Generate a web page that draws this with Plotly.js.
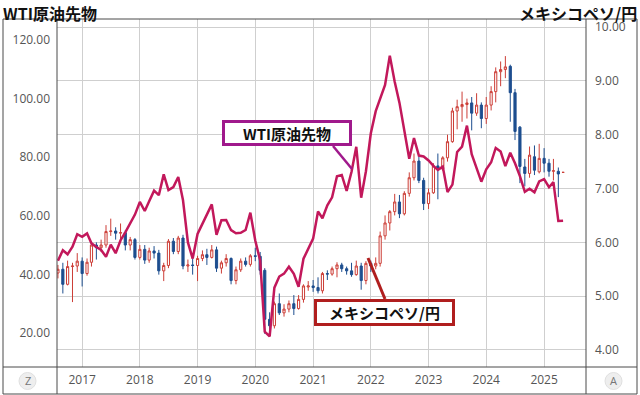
<!DOCTYPE html>
<html><head><meta charset="utf-8">
<script src="https://cdn.plot.ly/plotly-3.0.1.min.js"></script>
<style>html,body{margin:0;padding:0;background:#fff;}#chart{width:640px;height:395px;}</style>
</head><body><div id="chart"></div>
<script>
const months = [
'2016-08-01','2016-09-01','2016-10-01','2016-11-01','2016-12-01',
'2017-01-01','2017-02-01','2017-03-01','2017-04-01','2017-05-01','2017-06-01','2017-07-01','2017-08-01','2017-09-01','2017-10-01','2017-11-01','2017-12-01',
'2018-01-01','2018-02-01','2018-03-01','2018-04-01','2018-05-01','2018-06-01','2018-07-01','2018-08-01','2018-09-01','2018-10-01','2018-11-01','2018-12-01',
'2019-01-01','2019-02-01','2019-03-01','2019-04-01','2019-05-01','2019-06-01','2019-07-01','2019-08-01','2019-09-01','2019-10-01','2019-11-01','2019-12-01',
'2020-01-01','2020-02-01','2020-03-01','2020-04-01','2020-05-01','2020-06-01','2020-07-01','2020-08-01','2020-09-01','2020-10-01','2020-11-01','2020-12-01',
'2021-01-01','2021-02-01','2021-03-01','2021-04-01','2021-05-01','2021-06-01','2021-07-01','2021-08-01','2021-09-01','2021-10-01','2021-11-01','2021-12-01',
'2022-01-01','2022-02-01','2022-03-01','2022-04-01','2022-05-01','2022-06-01','2022-07-01','2022-08-01','2022-09-01','2022-10-01','2022-11-01','2022-12-01',
'2023-01-01','2023-02-01','2023-03-01','2023-04-01','2023-05-01','2023-06-01','2023-07-01','2023-08-01','2023-09-01','2023-10-01','2023-11-01','2023-12-01',
'2024-01-01','2024-02-01','2024-03-01','2024-04-01','2024-05-01','2024-06-01','2024-07-01','2024-08-01','2024-09-01','2024-10-01','2024-11-01','2024-12-01',
'2025-01-01','2025-02-01','2025-03-01','2025-04-01','2025-05-01'];

const wtiClose = [
44.70,48.24,46.86,49.44,53.72,
52.81,54.01,50.60,49.33,48.32,46.04,50.17,47.23,51.67,54.38,57.40,60.42,
64.73,61.64,64.94,68.57,67.04,74.15,68.76,69.80,73.25,65.31,50.93,45.41,
53.79,57.22,60.14,63.91,53.50,58.47,58.58,55.10,54.07,54.18,55.17,61.06,
51.56,44.76,20.48,18.84,35.49,39.27,40.27,42.61,40.22,35.79,45.34,48.52,
52.20,61.50,59.16,63.58,66.32,73.47,73.95,68.50,75.03,83.57,66.18,75.21,
88.15,95.72,100.28,104.69,114.67,105.76,98.62,89.55,79.49,86.53,80.55,80.26,
78.87,77.05,75.67,76.78,68.09,70.64,81.80,83.63,90.79,81.02,75.96,71.65,
75.85,78.26,83.17,81.93,76.99,81.54,77.91,73.55,68.17,69.26,68.00,71.72,
72.53,69.76,71.48,58.21,58.30];

const mxnOpen = [
5.43,5.50,5.22,5.55,5.56,
5.65,5.42,5.63,5.95,5.90,5.95,6.20,6.21,6.17,6.18,5.95,6.05,
5.72,5.87,5.67,5.84,5.80,5.47,5.57,6.02,5.83,6.08,5.56,5.58,
5.57,5.70,5.77,5.72,5.86,5.52,5.62,5.70,5.29,5.49,5.65,5.59,
5.75,5.74,5.48,4.57,4.45,4.86,4.69,4.76,4.86,4.77,4.94,5.17,
5.19,5.16,5.10,5.42,5.41,5.51,5.58,5.51,5.47,5.40,5.56,5.29,
5.61,5.56,5.61,6.12,6.36,6.57,6.75,6.53,6.91,7.20,7.51,7.15,
6.72,6.92,7.42,7.36,7.57,7.87,8.44,8.52,8.56,8.59,8.40,8.55,
8.30,8.55,8.80,9.17,9.21,9.27,8.78,8.14,7.40,7.28,7.59,7.31,
7.56,7.47,7.32,7.32,7.30];
const mxnHigh = [
5.58,5.62,5.66,5.62,5.80,
5.72,5.70,6.02,6.00,6.05,6.32,6.44,6.28,6.35,6.22,6.10,6.08,
5.95,5.95,5.90,5.93,5.86,5.62,6.06,6.08,6.12,6.14,5.68,5.70,
5.75,5.85,5.88,5.95,5.92,5.66,5.78,5.72,5.55,5.70,5.72,5.78,
5.90,5.82,5.52,4.70,4.90,5.05,4.85,4.92,5.02,5.02,5.22,5.28,
5.30,5.35,5.45,5.48,5.55,5.63,5.62,5.55,5.62,5.66,5.62,5.65,
5.66,5.72,6.20,6.50,6.60,6.90,6.88,6.95,7.30,7.65,7.60,7.20,
7.00,7.47,7.65,7.60,8.00,8.50,8.65,8.80,8.67,8.70,8.77,8.60,
8.70,8.90,9.25,9.36,9.46,9.30,8.85,8.16,7.55,7.78,7.80,7.83,
7.75,7.55,7.55,7.39,7.30];
const mxnLow = [
5.33,5.05,5.20,4.89,5.45,
5.18,5.38,5.55,5.68,5.82,5.90,6.12,6.05,6.00,5.85,5.85,5.68,
5.68,5.60,5.62,5.70,5.40,5.28,5.52,5.78,5.78,5.50,5.45,5.40,
5.28,5.65,5.58,5.70,5.45,5.42,5.55,5.22,5.22,5.45,5.55,5.55,
5.65,5.40,4.30,4.38,4.40,4.65,4.62,4.70,4.65,4.75,4.88,5.10,
5.08,5.05,5.05,5.30,5.38,5.35,5.45,5.40,5.36,5.38,5.12,5.22,
5.45,5.50,5.55,6.05,6.22,6.50,6.45,6.50,6.85,7.15,7.10,6.60,
6.62,6.90,6.80,7.33,7.50,7.85,8.10,8.24,8.30,8.08,8.35,8.12,
8.20,8.45,8.60,8.90,9.05,8.24,7.90,7.10,7.04,7.20,7.25,7.28,
7.30,7.22,7.15,6.84,7.30];
const mxnClose = [
5.50,5.22,5.55,5.56,5.65,
5.42,5.63,5.95,5.90,5.95,6.20,6.21,6.17,6.18,5.95,6.05,5.72,
5.87,5.67,5.84,5.80,5.47,5.57,6.02,5.83,6.08,5.56,5.58,5.57,
5.70,5.77,5.72,5.86,5.52,5.62,5.70,5.29,5.49,5.65,5.59,5.75,
5.74,5.48,4.57,4.45,4.86,4.69,4.76,4.86,4.77,4.94,5.19,5.19,
5.16,5.10,5.42,5.41,5.51,5.58,5.51,5.47,5.40,5.56,5.29,5.61,
5.56,5.61,6.12,6.36,6.57,6.75,6.53,6.91,7.20,7.51,7.15,6.72,
6.92,7.42,7.36,7.57,7.87,8.44,8.52,8.56,8.59,8.40,8.55,8.30,
8.55,8.80,9.17,9.21,9.26,8.78,8.06,7.41,7.28,7.62,7.34,7.56,
7.47,7.32,7.33,7.27,7.30];

const yearTicks = ['2017-01-01','2018-01-01','2019-01-01','2020-01-01','2021-01-01','2022-01-01','2023-01-01','2024-01-01','2025-01-01'];
const yearLabels = ['2017','2018','2019','2020','2021','2022','2023','2024','2025'];
const wtiTicks = [20,40,60,80,100,120];
const mxnTicks = [4,5,6,7,8,9,10];
const titleLeft = 'WTI原油先物';
const titleRight = 'メキシコペソ/円';
const calloutWti = 'WTI原油先物';
const calloutMxn = 'メキシコペソ/円';

// pixel -> paper helpers (plot area: x 57..586, y 19..367)
const PX = p => (p - 57) / 529;
const PY = p => (367 - p) / 348;

const tickFont = {family: 'Open Sans, Noto Sans, sans-serif', size: 12, color: '#555'};
const boldCJK = 'Noto Sans CJK JP, Noto Sans, sans-serif';

const candle = {
  type: 'candlestick', x: months, open: mxnOpen, high: mxnHigh, low: mxnLow, close: mxnClose,
  yaxis: 'y', xaxis: 'x',
  increasing: {line: {color: '#cc3d36', width: 1}, fillcolor: '#ffffff'},
  decreasing: {line: {color: '#1d4e8f', width: 1}, fillcolor: '#1d4e8f'},
  whiskerwidth: 0, hoverinfo: 'skip', showlegend: false
};
const wtiLine = {
  type: 'scatter', mode: 'lines', x: months, y: wtiClose, yaxis: 'y2', xaxis: 'x',
  line: {color: '#c2185b', width: 2.5}, hoverinfo: 'skip', showlegend: false
};

const frame = '#4a4a4a';
const shapes = [
  {type: 'rect', xref: 'paper', yref: 'paper', x0: PX(3), x1: PX(637), y0: PY(394), y1: PY(19), line: {color: frame, width: 1}},
  {type: 'line', xref: 'paper', yref: 'paper', x0: PX(3), x1: PX(637), y0: 0, y1: 0, line: {color: frame, width: 1}},
  {type: 'line', xref: 'paper', yref: 'paper', x0: 0, x1: 0, y0: PY(394), y1: 1, line: {color: frame, width: 1}},
  {type: 'line', xref: 'paper', yref: 'paper', x0: 1, x1: 1, y0: PY(394), y1: 1, line: {color: frame, width: 1}},
  {type: 'circle', xref: 'paper', yref: 'paper', x0: PX(19), x1: PX(36), y0: PY(389.5), y1: PY(372.5), fillcolor: '#eeeeee', line: {color: '#e0e0e0', width: 1}},
  {type: 'circle', xref: 'paper', yref: 'paper', x0: PX(605), x1: PX(622), y0: PY(389.5), y1: PY(372.5), fillcolor: '#eeeeee', line: {color: '#e0e0e0', width: 1}},
  {type: 'line', xref: 'paper', yref: 'paper', x0: PX(333), y0: PY(146), x1: PX(352), y1: PY(169), line: {color: '#a0198c', width: 2.5}},
  {type: 'line', xref: 'paper', yref: 'paper', x0: PX(368), y0: PY(258), x1: PX(385), y1: PY(299), line: {color: '#b01e1e', width: 3}}
];

const annotations = [
  {xref: 'paper', yref: 'paper', x: PX(1), y: PY(-1), xanchor: 'left', yanchor: 'top', text: '<b>' + titleLeft + '</b>', showarrow: false, font: {family: boldCJK, size: 16, color: '#111'}},
  {xref: 'paper', yref: 'paper', x: PX(639), y: PY(-1), xanchor: 'right', yanchor: 'top', text: '<b>' + titleRight + '</b>', showarrow: false, font: {family: boldCJK, size: 16, color: '#111'}},
  {xref: 'paper', yref: 'paper', x: PX(287), y: PY(133), xanchor: 'center', yanchor: 'middle', text: '<b>' + calloutWti + '</b>', showarrow: false,
   font: {family: boldCJK, size: 15, color: '#111'}, bgcolor: '#ffffff', bordercolor: '#a0198c', borderwidth: 3, borderpad: 1, width: 122, height: 18},
  {xref: 'paper', yref: 'paper', x: PX(384.5), y: PY(312.5), xanchor: 'center', yanchor: 'middle', text: '<b>' + calloutMxn + '</b>', showarrow: false,
   font: {family: boldCJK, size: 15, color: '#111'}, bgcolor: '#ffffff', bordercolor: '#b01e1e', borderwidth: 3, borderpad: 1, width: 133, height: 19},
  {xref: 'paper', yref: 'paper', x: PX(27.5), y: PY(381), xanchor: 'center', yanchor: 'middle', text: 'Z', showarrow: false, font: {family: 'Open Sans, sans-serif', size: 11, color: '#777'}},
  {xref: 'paper', yref: 'paper', x: PX(613.5), y: PY(381), xanchor: 'center', yanchor: 'middle', text: 'A', showarrow: false, font: {family: 'Open Sans, sans-serif', size: 11, color: '#777'}}
];

const layout = {
  width: 640, height: 395,
  margin: {l: 57, r: 54, t: 19, b: 28, pad: 0},
  paper_bgcolor: '#ffffff', plot_bgcolor: '#ffffff',
  showlegend: false,
  xaxis: {type: 'date', range: ['2016-07-26', '2025-09-23'], tickvals: yearTicks, ticktext: yearLabels,
    showgrid: true, gridcolor: '#cfcfcf', gridwidth: 1, zeroline: false, showline: false, ticks: '',
    tickfont: tickFont, rangeslider: {visible: false}, fixedrange: true, ticklabelstandoff: 4},
  yaxis: {side: 'right', range: [3.684, 10.149], tickvals: mxnTicks, tickformat: '.2f',
    showgrid: true, gridcolor: '#cfcfcf', gridwidth: 1, zeroline: false, showline: false, ticks: '',
    tickfont: tickFont, ticklabelstandoff: 8, fixedrange: true},
  yaxis2: {overlaying: 'y', side: 'left', range: [8.40, 127.17], tickvals: wtiTicks, tickformat: '.2f',
    showgrid: false, zeroline: false, showline: false, ticks: '',
    tickfont: tickFont, ticklabelstandoff: 6, fixedrange: true},
  shapes: shapes,
  annotations: annotations
};

Plotly.newPlot('chart', [candle, wtiLine], layout, {displayModeBar: false, staticPlot: true});
</script></body></html>
